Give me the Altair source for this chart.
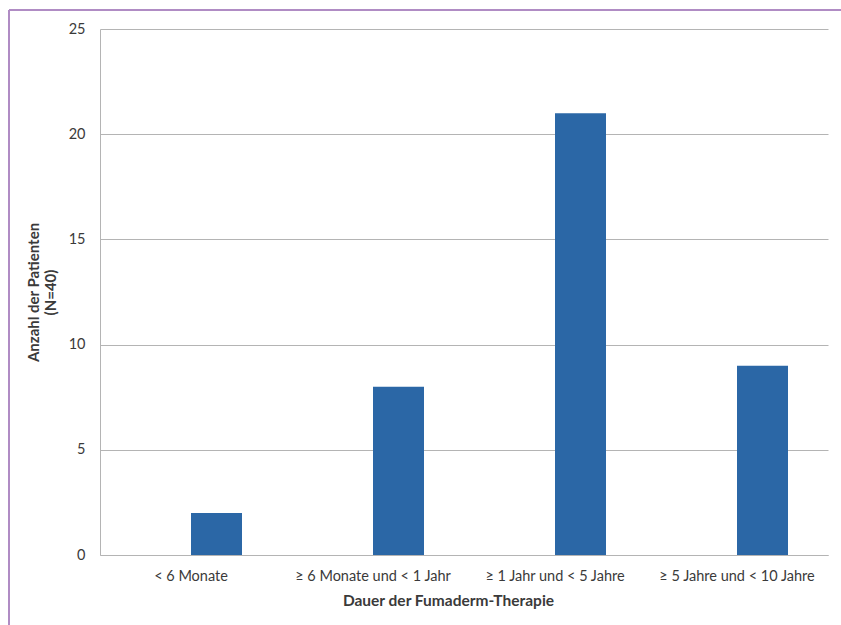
import altair as alt
import pandas as pd

# Dauer der Fumaderm-Therapie vs. Anzahl der Patienten (N=40)
categories = [
    "< 6 Monate",
    "≥ 6 Monate und < 1 Jahr",
    "≥ 1 Jahr und < 5 Jahre",
    "≥ 5 Jahre und < 10 Jahre",
]
patients = [2, 8, 21, 9]

df = pd.DataFrame({"Dauer": categories, "Anzahl": patients})

FONT = "Lato"
TEXT = "#3a3a3a"
GRID = "#b4b4b4"
BAR = "#2b67a6"

PLOT_W, PLOT_H = 728, 526

bars = alt.Chart(df).mark_bar(color=BAR, width=51, xOffset=25.5).encode(
    x=alt.X(
        "Dauer:N",
        sort=categories,
        scale=alt.Scale(paddingInner=0, paddingOuter=0),
        axis=alt.Axis(
            title="Dauer der Fumaderm-Therapie",
            labelAngle=0,
            labelFontSize=14.5,
            labelColor=TEXT,
            labelPadding=14,
            ticks=False,
            domainColor=GRID,
            titleFontSize=15.5,
            titleFontWeight="bold",
            titleColor=TEXT,
            titlePadding=11,
            titleX=348,
            titleAlign="center",
        ),
    ),
    y=alt.Y(
        "Anzahl:Q",
        scale=alt.Scale(domain=[0, 25]),
        axis=alt.Axis(
            title=["Anzahl der Patienten", "(N=40)"],
            values=[0, 5, 10, 15, 20, 25],
            labelFontSize=14.5,
            labelColor=TEXT,
            labelPadding=15,
            ticks=False,
            domainColor=GRID,
            gridColor=GRID,
            titleFontSize=15,
            titleLineHeight=17,
            titleFontWeight="bold",
            titleColor=TEXT,
            titlePadding=10,
        ),
    ),
)

# Frame around the whole figure (left and top edges inside the page)
frame_left = alt.Chart(df).mark_rule(color="#b08cc4", strokeWidth=2, clip=False).encode(
    x=alt.value(-91), y=alt.value(-19), y2=alt.value(PLOT_H + 80)
)
frame_top = alt.Chart(df).mark_rule(color="#b08cc4", strokeWidth=2, clip=False).encode(
    x=alt.value(-91), x2=alt.value(PLOT_W + 30), y=alt.value(-19)
)

chart = (
    alt.layer(bars, frame_left, frame_top)
    .properties(
        width=PLOT_W,
        height=PLOT_H,
        autosize=alt.AutoSizeParams(type="none"),
        padding={"left": 100, "top": 29, "right": 13, "bottom": 70},
        background="white",
    )
    .configure_view(stroke=None)
    .configure_axis(labelFont=FONT, titleFont=FONT, gridWidth=1, domainWidth=1)
)

chart.save("out.html", embed_options={"renderer": "svg", "actions": False})
